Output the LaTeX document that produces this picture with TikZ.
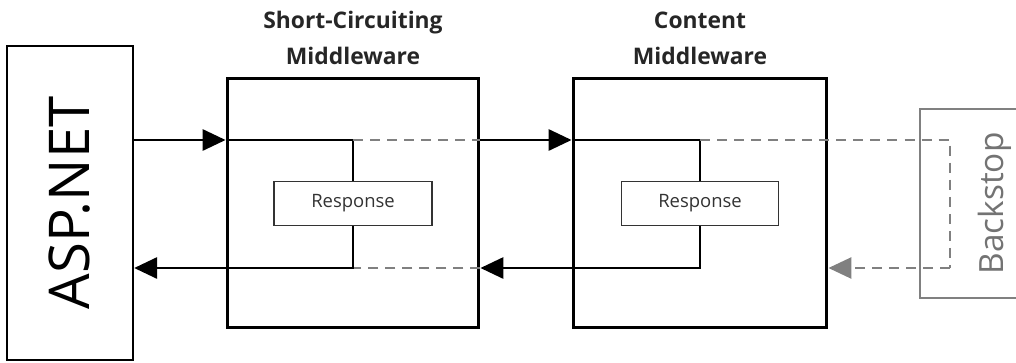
\documentclass[tikz,border=0pt]{standalone}
\usepackage{fontspec}
\setmainfont{Open Sans}
\usepackage{tikz}
\usetikzlibrary{arrows.meta,calc,positioning}
\definecolor{midgray}{rgb}{0.5,0.5,0.5}
\definecolor{textgray}{rgb}{0.45,0.45,0.45}

\begin{document}
\begin{tikzpicture}[x=0.02cm,y=-0.02cm,
    mwbox/.style={draw,line width=1.7pt,inner sep=0pt,minimum height=5cm},
    respbox/.style={draw,black!80,line width=0.8pt,inner sep=0pt,minimum width=3.16cm,minimum height=0.88cm,
      font=\fontsize{10.5}{12}\selectfont,text=black!80},
    mwtitle/.style={align=center,font=\fontsize{13}{20}\selectfont\bfseries,text=black!85},
    flow/.style={line width=1.4pt},
    skip/.style={midgray,line width=1.1pt,dash pattern=on 5.7pt off 4pt},
    tip/.style={-{Triangle[length=13pt,width=12pt]}}]
          % Frame of the picture
          \clip (0,0) rectangle (1016,362);
          % Define coordinates
          \coordinate (req) at (0,140);
          \coordinate (res) at (0,268);
          \coordinate (turn) at (950,0);
          % Draw the boxes
          \node[draw,line width=1.4pt,inner sep=0pt,minimum width=2.52cm,minimum height=6.28cm] (asp) at (70,203)
            {\rotatebox{90}{\fontsize{32}{36}\selectfont ASP.NET}};
          \node[mwbox,minimum width=5.04cm] (scmw) at (353,203) {};
          \node[mwbox,minimum width=5.08cm] (cmw) at (700,203) {};
          \node[draw,midgray,line width=1.1pt,inner sep=0pt,minimum width=3cm,minimum height=3.78cm] (bs) at (995,203.5)
            {\rotatebox{90}{\fontsize{19}{22}\selectfont\color{textgray}Backstop}};
          \node[respbox] (scresp) at (353,203.5) {Response};
          \node[respbox,minimum width=3.14cm] (cresp) at (700,203.5) {Response};
          % Titles
          \node[mwtitle,above=0.12cm of scmw] (sctitle) {Short-Circuiting\\Middleware};
          \node[mwtitle,above=0.12cm of cmw] (ctitle) {Content\\Middleware};
          % Request path
          \draw[flow,tip] (asp.east |- req) -- (scmw.west |- req);
          \draw[flow] (scmw.west |- req) -- (scresp.north |- req) -- (scresp.north);
          \draw[skip] (scresp.north |- req) -- (scmw.east |- req);
          \draw[flow,tip] (scmw.east |- req) -- (cmw.west |- req);
          \draw[flow] (cmw.west |- req) -- (cresp.north |- req) -- (cresp.north);
          \draw[skip] (cresp.north |- req) -- (turn |- req) -- (turn |- res);
          \draw[skip,tip] (turn |- res) -- (cmw.east |- res);
          % Response path
          \draw[flow] (cresp.south) -- (cresp.south |- res) -- (cmw.west |- res);
          \draw[flow,tip] (cmw.west |- res) -- (scmw.east |- res);
          \draw[skip] (scmw.east |- res) -- (scresp.south |- res);
          \draw[flow] (scresp.south) -- (scresp.south |- res) -- (scmw.west |- res);
          \draw[flow,tip] (scmw.west |- res) -- (asp.east |- res);
\end{tikzpicture}
\end{document}
